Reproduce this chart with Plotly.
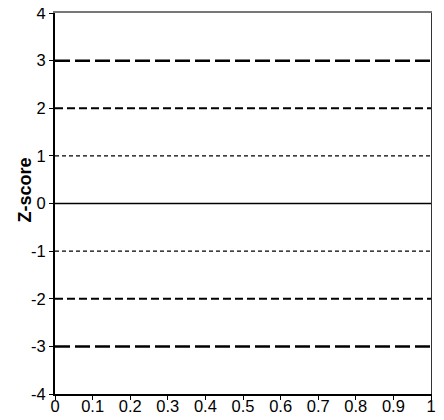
import plotly.graph_objects as go

levels = [3, 2, 1, 0, -1, -2, -3]
dashes = ["15px,5px", "8px,4px", "4px,3px", "solid", "4px,3px", "8px,4px", "15px,5px"]
widths = [2.5, 1.8, 1.4, 1.5, 1.4, 1.8, 2.5]
x_range = [0, 1]
x_ticks = [0, 0.1, 0.2, 0.3, 0.4, 0.5, 0.6, 0.7, 0.8, 0.9, 1]
x_ticklabels = ["0", "0.1", "0.2", "0.3", "0.4", "0.5", "0.6", "0.7", "0.8", "0.9", "1"]
y_ticks = [-4, -3, -2, -1, 0, 1, 2, 3, 4]
y_ticklabels = ["-4", "-3", "-2", "-1", "0", "1", "2", "3", "4"]
y_title = "Z-score"

fig = go.Figure()
for z, d, w in zip(levels, dashes, widths):
    fig.add_trace(go.Scatter(x=x_range, y=[z, z], mode="lines",
                             line=dict(color="black", dash=d, width=w),
                             showlegend=False, hoverinfo="skip"))

fam = "Liberation Sans, Arial, sans-serif"
font = dict(family=fam, size=16.5, color="black")
# page body has an 8px margin; figure is offset to compensate
fig.update_layout(
    width=444, height=420,
    margin=dict(l=47, r=21, t=5, b=34, autoexpand=False),
    plot_bgcolor="white", paper_bgcolor="white",
    font=font,
    xaxis=dict(range=[0, 1], tickvals=x_ticks, ticktext=x_ticklabels,
               showgrid=False, zeroline=False, showline=True, automargin=False,
               linecolor="black", linewidth=2,
               ticks="outside", ticklen=4, tickcolor="black", tickwidth=1,
               tickfont=font, ticklabelstandoff=-8, ticklabeloverflow="allow"),
    yaxis=dict(range=[-4, 4], tickvals=y_ticks, ticktext=y_ticklabels,
               showgrid=False, zeroline=False, showline=True, automargin=False,
               linecolor="black", linewidth=2,
               ticks="outside", ticklen=4, tickcolor="black", tickwidth=1,
               tickfont=font, ticklabelstandoff=0, ticklabeloverflow="allow"),
    xaxis2=dict(overlaying="x", side="top", range=[0, 1], showline=True, automargin=False,
                linecolor="#777777", linewidth=1.5, showticklabels=False,
                showgrid=False, zeroline=False, ticks=""),
    yaxis2=dict(overlaying="y", side="right", range=[-4, 4], showline=True, automargin=False,
                linecolor="#333333", linewidth=1.2, showticklabels=False,
                showgrid=False, zeroline=False, ticks=""),
    annotations=[dict(text="<b>" + y_title + "</b>", xref="paper", yref="paper",
                      x=0, y=0.5, xanchor="center", yanchor="middle",
                      xshift=-31, yshift=13, textangle=-90, showarrow=False,
                      font=dict(family=fam, size=18, color="black"))],
)
fig.add_trace(go.Scatter(x=[0.5], y=[0], xaxis="x2", yaxis="y2", mode="markers",
                         marker=dict(opacity=0), showlegend=False, hoverinfo="skip"))
fig.write_html("out.html")
